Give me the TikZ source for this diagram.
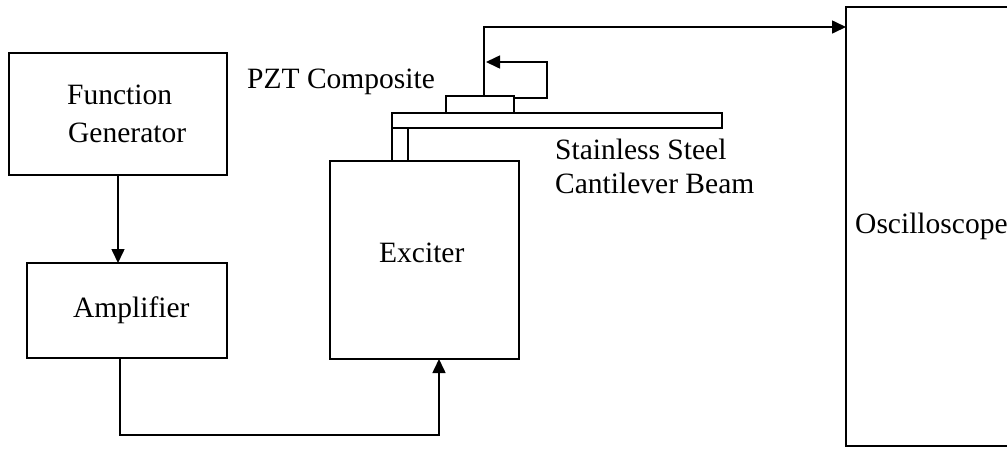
\documentclass[tikz,border=0pt]{standalone}
\usepackage{fontspec}
\setmainfont{Liberation Serif}
\usetikzlibrary{arrows.meta}
\begin{document}
\begin{tikzpicture}[x=1pt,y=-1pt,
  box/.style={draw,line width=1.8pt,rectangle,outer sep=0pt,inner sep=0pt},
  lbl/.style={anchor=base west,inner sep=0pt,font=\fontsize{29.5}{34}\selectfont},
  wire/.style={line width=1.6pt},
  arr/.style={wire,-{Triangle[length=14pt,width=13pt]}}]
\useasboundingbox (0,0) rectangle (1007,448);
% boxes
\node[box,minimum width=218pt,minimum height=122pt] (fg) at (118,114) {};
\node[box,minimum width=200pt,minimum height=95pt] (amp) at (127,310.5) {};
\node[box,minimum width=189pt,minimum height=198pt] (exc) at (424.5,260) {};
\node[box,minimum width=330pt,minimum height=15pt] (beam) at (557,120.5) {};
\node[box,minimum width=16pt,minimum height=33pt] (post) at (400,144.5) {};
\node[box,minimum width=68pt,minimum height=17pt] (pzt) at (480,104.5) {};
\node[box,minimum width=360pt,minimum height=439pt] (osc) at (1026,226.5) {};
% labels
\node[lbl] (t1) at (67,104) {Function};
\node[lbl] (t2) at (68,142) {Generator};
\node[lbl] (t3) at (73,317) {Amplifier};
\node[lbl] (t4) at (379,262) {Exciter};
\node[lbl] (t5) at (247,88) {PZT Composite};
\node[lbl] (t6) at (555,159) {Stainless Steel};
\node[lbl] (t7) at (555,193) {Cantilever Beam};
\node[lbl] (t8) at (855,233) {Oscilloscope};
% connectors
\draw[arr] (fg.south) -- (fg.south |- amp.north);
\coordinate (c1) at (120,435);
\coordinate (c2) at (439,435);
\draw[arr] (amp.south -| c1) -- (c1) -- (c2) -- (c2 |- exc.south);
\coordinate (p1) at (484,27);
\draw[arr] (pzt.north -| p1) -- (p1) -- (p1 -| osc.west);
\coordinate (q1) at (547,98);
\coordinate (q2) at (547,62);
\coordinate (q3) at (486,62);
\draw[arr] (pzt.east |- q1) -- (q1) -- (q2) -- (q3);
\end{tikzpicture}
\end{document}
